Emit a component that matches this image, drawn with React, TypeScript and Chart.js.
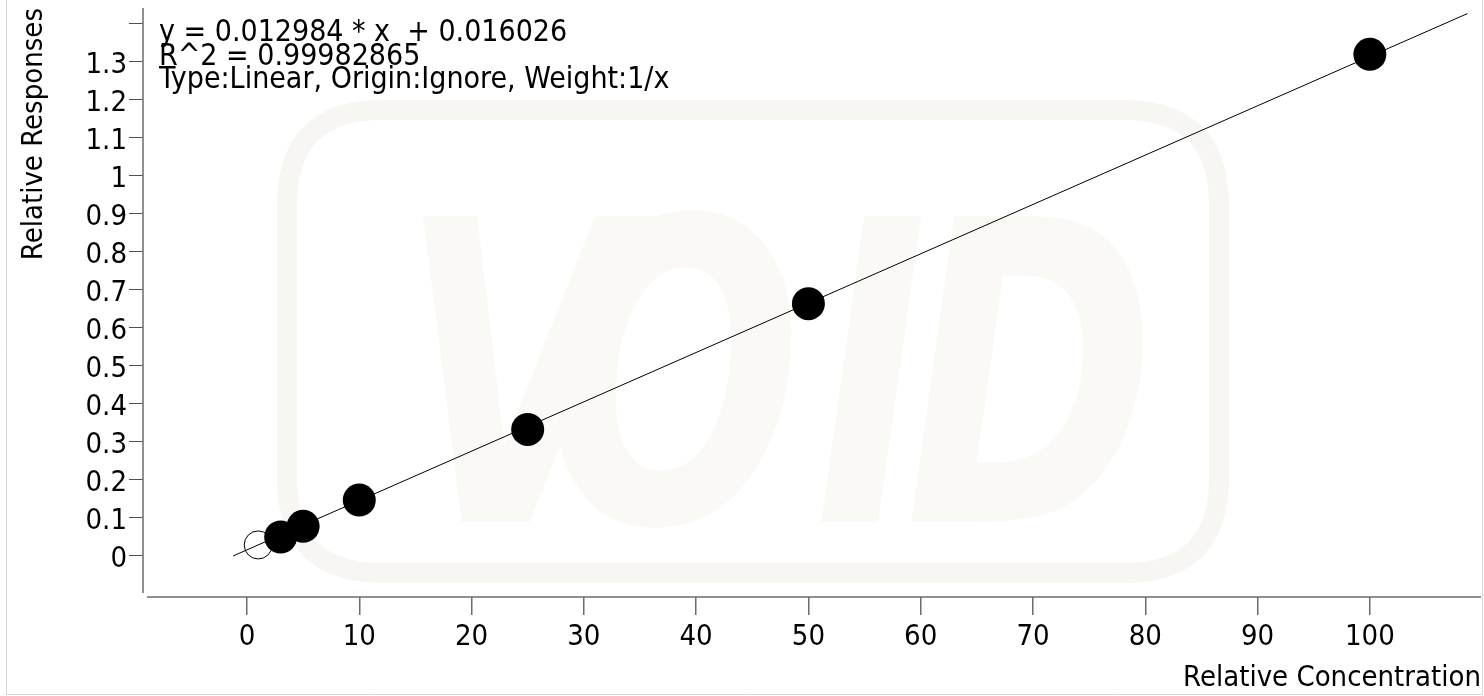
import React, { useEffect, useRef } from "react";
import { Chart, registerables } from "chart.js";

Chart.register(...registerables);

// ---- data ----
const includedX = [3, 5, 10, 25, 50, 100];
const includedY = [0.05, 0.078, 0.147, 0.333, 0.664, 1.32];
const excludedX = [1];
const excludedY = [0.029];
const SLOPE = 0.012984;
const INTERCEPT = 0.016026;
const fitX = [-1.234, 108.7];
const annotationLines = [
  "y = 0.012984 * x  + 0.016026",
  "R^2 = 0.99982865",
  "Type:Linear, Origin:Ignore, Weight:1/x",
];
const xTitle = "Relative Concentration";
const yTitle = "Relative Responses";
const watermarkLetters = ["V", "O", "I", "D"];

// ---- style ----
const W = 1484;
const H = 696;
const FONT_FAMILY = "'DejaVu Sans Condensed', 'DejaVu Sans', sans-serif";
const FONT_SIZE = 29;
const AXIS_COLOR = "#6c6c6c";

const watermarkPlugin = {
  id: "watermark",
  beforeDatasetsDraw(chart: any) {
    const ctx = chart.ctx;
    ctx.save();
    const x0 = 287, y0 = 110, x1 = 1219, y1 = 573, r = 95;
    ctx.strokeStyle = "#f7f6f3";
    ctx.lineWidth = 20;
    ctx.beginPath();
    ctx.moveTo(x0 + r, y0);
    ctx.lineTo(x1 - r, y0);
    ctx.quadraticCurveTo(x1, y0, x1, y0 + r);
    ctx.lineTo(x1, y1 - r);
    ctx.quadraticCurveTo(x1, y1, x1 - r, y1);
    ctx.lineTo(x0 + r, y1);
    ctx.quadraticCurveTo(x0, y1, x0, y1 - r);
    ctx.lineTo(x0, y0 + r);
    ctx.quadraticCurveTo(x0, y0, x0 + r, y0);
    ctx.closePath();
    ctx.stroke();
    ctx.fillStyle = "#faf9f6";
    ctx.font = `italic bold 420px 'DejaVu Sans', sans-serif`;
    ctx.textBaseline = "alphabetic";
    ctx.textAlign = "left";
    const xs = [400, 545, 815, 905];
    watermarkLetters.forEach((l, i) => {
      ctx.save();
      ctx.translate(xs[i], 522);
      ctx.scale(0.72, 1);
      ctx.fillText(l, 0, 0);
      ctx.restore();
    });
    ctx.restore();
  },
};

const overlayPlugin = {
  id: "overlay",
  afterDraw(chart: any) {
    const ctx = chart.ctx;
    const { left, right, top, bottom } = chart.chartArea;
    ctx.save();
    ctx.strokeStyle = "#d8d8d8";
    ctx.lineWidth = 1;
    ctx.beginPath();
    ctx.moveTo(6.5, 0);
    ctx.lineTo(6.5, 694.5);
    ctx.lineTo(1482.5, 694.5);
    ctx.lineTo(1482.5, 0);
    ctx.stroke();
    ctx.strokeStyle = AXIS_COLOR;
    ctx.lineWidth = 1.5;
    ctx.beginPath();
    ctx.moveTo(left, top);
    ctx.lineTo(left, bottom - 4);
    ctx.moveTo(left + 4, bottom);
    ctx.lineTo(right, bottom);
    ctx.stroke();
    ctx.fillStyle = "#000";
    ctx.font = `30px ${FONT_FAMILY}`;
    ctx.textAlign = "left";
    ctx.textBaseline = "alphabetic";
    annotationLines.forEach((t, i) => ctx.fillText(t, 159, 41 + i * 23.5));
    ctx.restore();
  },
};

export default function App() {
  const ref = useRef<HTMLCanvasElement | null>(null);
  useEffect(() => {
    if (!ref.current) return;
    const font = { family: FONT_FAMILY, size: FONT_SIZE };
    const chart = new Chart(ref.current, {
      type: "scatter",
      data: {
        datasets: [
          {
            label: "fit",
            data: fitX.map((x) => ({ x, y: SLOPE * x + INTERCEPT })),
            showLine: true,
            borderColor: "#000",
            borderWidth: 1,
            pointRadius: 0,
            order: 2,
          },
          {
            label: "excluded",
            data: excludedX.map((x, i) => ({ x, y: excludedY[i] })),
            pointRadius: 14,
            pointBackgroundColor: "rgba(0,0,0,0)",
            pointBorderColor: "#000",
            pointBorderWidth: 1,
            order: 1,
          },
          {
            label: "included",
            data: includedX.map((x, i) => ({ x, y: includedY[i] })),
            pointRadius: 16.5,
            pointBackgroundColor: "#000",
            pointBorderColor: "#000",
            pointBorderWidth: 0,
            order: 0,
          },
        ],
      },
      options: {
        responsive: false,
        animation: false,
        devicePixelRatio: 1,
        layout: { autoPadding: false, padding: { left: 0, right: 3, top: 8, bottom: 0 } },
        plugins: { legend: { display: false }, tooltip: { enabled: false } },
        scales: {
          x: {
            type: "linear",
            min: -9.26,
            max: 109.9,
            ticks: {
              stepSize: 10,
              includeBounds: false,
              autoSkip: false,
              maxRotation: 0,
              color: "#000",
              font,
              padding: 5,
            },
            grid: {
              drawOnChartArea: false,
              drawTicks: true,
              tickLength: 18,
              color: AXIS_COLOR,
              lineWidth: 1.5,
            },
            border: { display: false },
            title: {
              display: true,
              text: xTitle,
              align: "end",
              color: "#000",
              font,
              padding: { top: 0, bottom: 0 },
            },
            afterFit: (s: any) => {
              s.height = 99;
              s.paddingLeft = 0;
              s.paddingRight = 0;
            },
          },
          y: {
            type: "linear",
            min: -0.108,
            max: 1.442,
            afterBuildTicks: (s: any) => {
              s.ticks = s.ticks.filter((t: any) => t.value > -0.05);
            },
            ticks: {
              stepSize: 0.1,
              includeBounds: false,
              autoSkip: false,
              color: "#000",
              font,
              padding: 2,
              labelOffset: 4,
              callback: (v: any) => {
                const n = Number(v);
                if (n > 1.35) return "";
                return String(Math.round(n * 10) / 10);
              },
            },
            grid: {
              drawOnChartArea: false,
              drawTicks: true,
              tickLength: 14,
              color: "#505050",
              lineWidth: 1,
            },
            border: { display: false },
            title: {
              display: true,
              text: yTitle,
              align: "end",
              color: "#000",
              font,
              padding: { top: 17, bottom: 0 },
            },
            afterFit: (s: any) => {
              s.width = 143;
              s.paddingTop = 0;
              s.paddingBottom = 0;
            },
          },
        },
      },
      plugins: [watermarkPlugin, overlayPlugin],
    } as any);
    return () => chart.destroy();
  }, []);
  return (
    <div style={{ position: "absolute", left: 0, top: 0, width: W, height: H, background: "#fff" }}>
      <canvas ref={ref} width={W} height={H} style={{ width: W, height: H, display: "block" }} />
    </div>
  );
}
